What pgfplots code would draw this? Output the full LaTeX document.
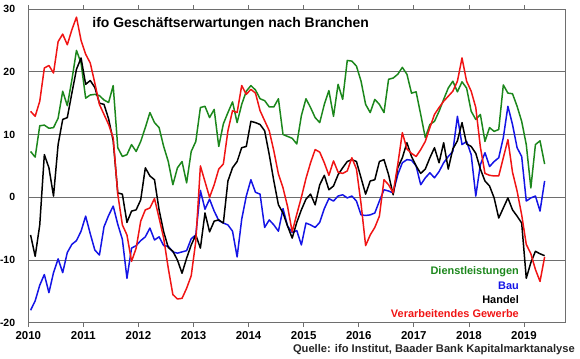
\documentclass[border=0pt]{standalone}
\usepackage{pgfplots}
\pgfplotsset{compat=1.18}
\usepackage{pgfplotstable}
\usepackage{fontspec}
\setmainfont{Liberation Sans}
\definecolor{dlgreen}{RGB}{28,135,28}
\definecolor{baublue}{RGB}{20,20,230}
\definecolor{vgred}{RGB}{240,20,20}
\definecolor{framegray}{RGB}{110,110,110}
\pgfplotstableread{
k gr bl bk rd
0 7.3 -18 -6 13.7
1 6.4 -16.5 -9.4 12.9
2 11.4 -14 -4.4 15.3
3 11.5 -12.3 6.8 20.6
4 11 -15.2 4.7 21
5 11.1 -12 0.2 19.8
6 12.6 -9.8 8.4 24.8
7 16.9 -12 12.4 26
8 14.6 -8.8 12.7 24.3
9 18.7 -7.5 16.6 26.7
10 23.4 -6.9 20.4 28.7
11 21.4 -5.4 22.2 25
12 15.8 -3 18 22.8
13 16.3 -5.8 18.6 21.4
14 16.4 -8.4 17.5 18.2
15 16.2 -9.2 15 14.8
16 15.5 -4.7 14.8 13.2
17 15.1 -2.9 12.5 11.6
18 17.8 -1.4 9 9.5
19 7.9 -4.3 0.7 0.5
20 6.5 -6.7 0.5 -4.4
21 6.8 -12.9 -4 -6
22 8.4 -8.1 -2.2 -10.2
23 7.3 -7.7 -2 -8.1
24 8.9 -6.9 -0.4 -3.8
25 11.1 -6.3 4.7 -2
26 13.5 -4.9 3.4 -1.7
27 11.9 -6.8 2.8 -0.2
28 11.1 -6.3 -2 -3.3
29 8.1 -7.7 -5.5 -6.5
30 5.7 -7.8 -8 -11.3
31 2 -8.7 -8.6 -15.5
32 4.7 -8.9 -10 -16.2
33 5.7 -8.7 -12.1 -16.1
34 2.3 -8.5 -9.7 -14.5
35 7.3 -6.6 -7.6 -12.5
36 8.9 -6 -6 -7
37 14.3 1.1 -8.1 5
38 14.5 -1.9 -2.5 2.5
39 12.7 -0.3 -5.5 0
40 14 -2.2 -3.8 2
41 8.1 -3.7 -3.6 4.5
42 11.7 -4.1 -4.1 5.3
43 13.5 -4.4 2.6 10.6
44 15.2 -5.4 4.7 13.8
45 11.9 -9.5 5.7 13.5
46 14.8 -3.5 7.9 17.8
47 16.9 0.2 8.1 16.4
48 17.8 2.8 12.1 17.2
49 17.1 0.8 11.9 16.6
50 15.7 0.5 11.6 13.8
51 15.4 -4.8 10.6 12.2
52 14.4 -3.6 6.8 10.6
53 14.4 -4.4 2.6 7.4
54 15.7 -5.4 -1.2 3.7
55 10 -1.8 -2.5 1.5
56 9.7 -4.6 -4.6 -1.5
57 9.4 -5.6 -6.5 -5.5
58 8.5 -5.3 -4 -2.7
59 13 -7.6 -2 0
60 15.7 -4.1 -0.3 3
61 14.3 -4.4 0.5 5.5
62 12.7 -4.8 -1.2 7.6
63 11.9 -4 2 7.2
64 14.8 -1.8 3.5 5.5
65 17 -0.2 1.2 3.5
66 12.9 -0.6 1.8 5.8
67 18 0.2 3.6 4
68 15.6 0.4 4.7 3.8
69 21.8 -0.1 5.7 4.2
70 21.7 0.2 6 6.3
71 20.9 -0.6 5.7 4.5
72 18.5 -2.8 3.1 -1
73 14.8 -2.9 0.5 -7.7
74 13.5 -2.8 2.6 -6
75 15.6 -2.5 2.8 -4.8
76 14.8 -0.6 5.7 -3
77 13.5 1.2 6 2.8
78 18.8 1 3.6 2
79 19 0.7 0.4 0.7
80 19.6 3.6 4.7 5.2
81 20.7 5.5 6.3 10.3
82 19.6 6 8.7 7.7
83 16.6 5.9 6.5 7
84 16.8 5 5 6.5
85 13.2 2 3.8 7.6
86 9.5 3.1 4.5 8.9
87 11.6 3.9 6.3 11.1
88 12.1 3.1 7.9 13.2
89 13.7 4.1 5.5 14.3
90 15.6 5.5 8.7 15.3
91 17.4 6.5 4.5 16.1
92 18.5 7.3 7.7 16.9
93 16.8 12.9 9 18.5
94 18.4 8.4 11.9 22.2
95 17.4 8.9 8.5 18.5
96 13.7 6.8 8.1 16.9
97 12.4 0.2 7 14.3
98 13.2 5.2 4.5 8
99 8.9 7.1 2.6 3.8
100 11.1 4.9 1.8 3.5
101 10.5 5.7 -0.1 3.4
102 10.8 6.3 -3.3 3.4
103 17.9 9.5 -1.7 6.3
104 16.6 14.5 -0.1 9.2
105 16.5 11.6 -2 4
106 14.5 7.9 -3 1
107 12.1 6.5 -4.1 -2.8
108 8.4 -0.6 -12.9 -7.5
109 1.5 -0.1 -10.4 -9
110 8.4 0.2 -8.6 -11.5
111 9 -2.2 -9 -13.4
112 5.3 2.6 -9.3 -9.5
}\ifodata
\begin{document}
\begin{tikzpicture}
\path (0,0) rectangle (580bp,359bp);
\begin{axis}[
  at={(28bp,36bp)}, anchor=south west, scale only axis,
  width=537bp, height=314bp,
  xmin=2010, xmax=2019.745, ymin=-20, ymax=30,
  xtick={2010,2011,2012,2013,2014,2015,2016,2017,2018,2019},
  xticklabels={2010,2011,2012,2013,2014,2015,2016,2017,2018,2019},
  ytick={-20,-10,0,10,20,30},
  yticklabels={-20,-10,0,10,20,30},
  ymajorgrids,
  major grid style={framegray, line width=0.7pt},
  axis line style={framegray, line width=0.8pt},
  tick align=outside,
  major tick length=4bp,
  xtick style={framegray, line width=0.7pt},
  ytick style={draw=none},
  xticklabel style={font=\bfseries\fontsize{11.5}{13}\selectfont, inner sep=0pt, anchor=north, yshift=-4bp},
  yticklabel style={font=\bfseries\fontsize{10.5}{12}\selectfont, inner sep=0pt, anchor=east, xshift=-9bp},
  extra y ticks={0},
  extra y tick labels={},
  extra y tick style={grid style={black, line width=1.7pt}},
  clip=true,
  every axis plot/.append style={line width=1.5pt, line join=round},
]
\addplot[dlgreen] table[x expr=2010+(\thisrow{k}+0.5)/12, y=gr] {\ifodata};
\addplot[baublue] table[x expr=2010+(\thisrow{k}+0.5)/12, y=bl] {\ifodata};
\addplot[black] table[x expr=2010+(\thisrow{k}+0.5)/12, y=bk] {\ifodata};
\addplot[vgred] table[x expr=2010+(\thisrow{k}+0.5)/12, y=rd] {\ifodata};
\end{axis}
\node[anchor=base west, inner sep=0pt, font=\bfseries\fontsize{14}{16}\selectfont] at (92bp,331.3bp) {ifo Geschäftserwartungen nach Branchen};
\begin{scope}[every node/.style={anchor=base east, inner sep=0pt, font=\bfseries\fontsize{11}{13}\selectfont}]
\node[text=dlgreen] at (519bp,84bp) {Dienstleistungen};
\node[text=baublue] at (519bp,69.5bp) {Bau};
\node[text=black] at (519bp,55bp) {Handel};
\node[text=vgred] at (519bp,41bp) {Verarbeitendes Gewerbe};
\node[text=black!85, font=\bfseries\fontsize{11.2}{13}\selectfont] at (575bp,6.8bp) {Quelle: ifo Institut, Baader Bank Kapitalmarktanalyse};
\end{scope}
\end{tikzpicture}
\end{document}
